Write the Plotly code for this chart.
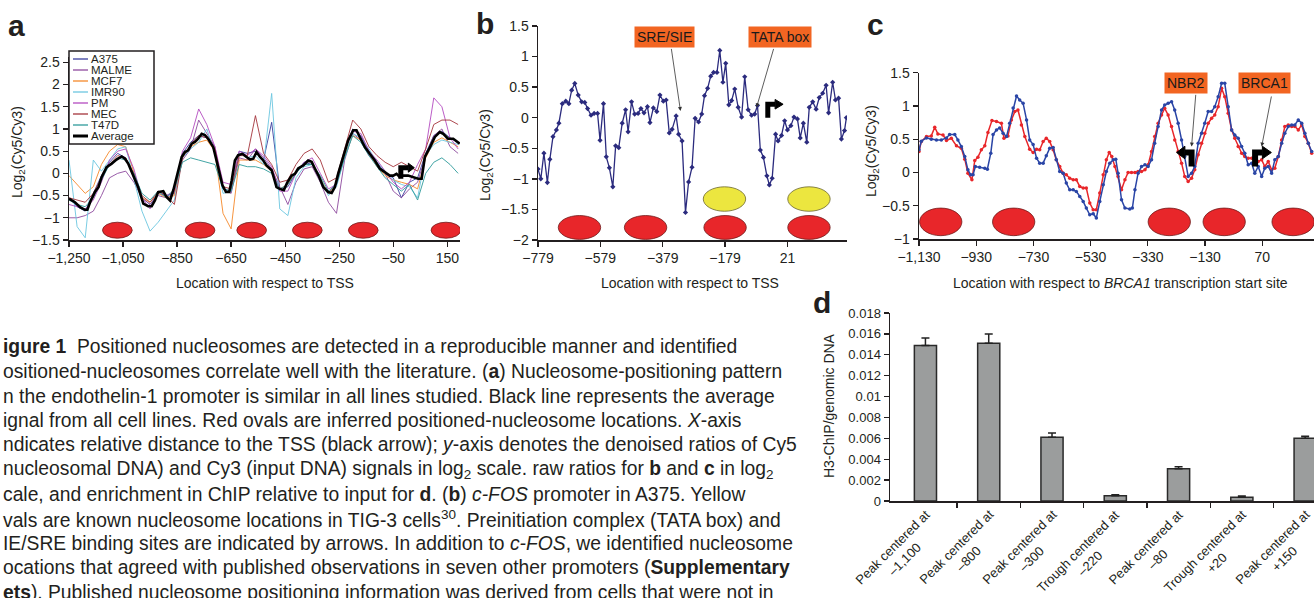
import plotly.graph_objects as go

W, H = 1314, 598
FONT = "Liberation Sans, Arial, Helvetica, sans-serif"
TXT = "#231f20"

# ---------------- panel a : endothelin-1 promoter, 7 cell lines ----------------
a_x = [-1250, -1220, -1190, -1160, -1130, -1100, -1070,
       -1040, -1010, -980, -950, -920, -890, -860,
       -830, -800, -770, -740, -710, -680, -650,
       -620, -590, -560, -530, -500, -470, -440,
       -410, -380, -350, -320, -290, -260, -230,
       -200, -170, -140, -110, -80, -50, -20,
       10, 40, 70, 100, 130, 160, 190]
a_A375 = [-0.55, -0.75, -0.85, -0.45, -0.05, 0.25, 0.45,
          0.35, -0.05, -0.55, -0.70, -0.45, -0.50, -0.45,
          0.45, 0.70, 0.85, 0.80, 0.50, -0.35, -0.40,
          0.50, 0.45, 0.50, 0.30, 1.15, -0.35, -0.30,
          0.00, 0.25, 0.20, -0.15, -0.45, -0.20, 0.50,
          1.00, 0.85, 0.50, 0.25, 0.00, -0.10, -0.55,
          -0.20, -0.10, 0.45, 0.85, 0.95, 0.80, 0.70]
a_MALME = [-1.00, -1.00, -0.95, -0.85, -0.50, -0.10, 0.00,
           0.05, -0.20, -0.55, -0.70, -0.50, -0.55, -0.45,
           0.30, 0.55, 1.20, 0.90, 0.60, -0.35, -0.45,
           0.35, 0.30, 0.55, 0.35, 0.10, -0.30, -0.70,
           -0.20, 0.10, 0.15, -0.20, -0.65, -0.90, 0.30,
           0.90, 0.75, 0.40, 0.20, 0.00, -0.40, -0.55,
           -0.35, -0.20, 0.40, 0.85, 1.00, 0.60, 0.45]
a_MCF7 = [-0.05, -0.25, -0.45, -0.30, 0.20, 0.50, 0.65,
          0.60, 0.00, -0.55, -0.65, -0.45, -0.55, -0.50,
          0.35, 0.60, 0.70, 0.75, 0.50, -0.90, -1.25,
          0.30, 0.30, 0.30, 0.20, 0.05, -0.35, -0.25,
          0.05, 0.20, 0.20, -0.10, -0.45, -0.25, 0.40,
          0.85, 0.75, 0.45, 0.15, -0.05, -0.15, -0.20,
          -0.25, -0.35, 0.35, 0.70, 0.80, 0.70, 0.60]
a_IMR90 = [0.30, -1.20, -1.45, 0.30, 0.05, 0.30, 0.55,
           0.60, -0.10, -0.85, -1.30, -1.10, -0.85, -0.60,
           0.35, 0.55, 0.70, 1.00, 0.45, -0.45, -0.40,
           0.45, 0.35, 0.40, 0.20, 1.80, -0.80, -0.95,
           -0.10, 0.15, 0.20, -0.10, -0.50, -0.30, 0.35,
           0.90, 0.80, 0.55, 0.25, 0.05, -0.15, -0.25,
           -0.30, -0.55, 0.40, 0.65, 0.75, 0.70, 0.65]
a_PM = [-0.70, -0.75, -0.80, -0.60, -0.20, 0.30, 0.50,
        0.55, 0.10, -0.55, -0.80, -0.40, -0.50, -0.40,
        0.50, 0.80, 1.45, 1.10, 0.60, -0.20, -0.25,
        0.50, 0.40, 0.55, 0.40, 0.15, -0.40, -0.40,
        0.00, 0.25, 0.35, 0.00, -0.35, -0.25, 0.50,
        0.95, 0.90, 0.50, 0.30, 0.05, -0.20, -0.35,
        -0.20, 0.20, 0.55, 1.70, 1.50, 0.80, 0.55]
a_MEC = [-0.55, -0.60, -0.65, -0.45, -0.10, 0.20, 0.40,
         0.35, 0.00, -0.50, -0.65, -0.40, -0.50, -0.70,
         0.35, 0.65, 0.85, 0.80, 0.55, -0.30, -0.35,
         0.40, 0.40, 1.30, 0.45, 0.20, -0.20, -0.15,
         0.20, 0.45, 0.55, 0.30, -0.20, -0.10, 0.55,
         1.20, 1.00, 0.60, 0.40, 0.25, 0.15, 0.25,
         0.15, 0.05, 0.55, 1.10, 1.20, 1.20, 1.10]
a_T47D = [-0.60, -0.70, -0.75, -0.55, -0.15, 0.20, 0.35,
          0.30, 0.00, -0.45, -0.60, -0.40, -0.55, -0.35,
          0.25, 0.35, 0.30, 0.25, 0.20, -0.35, -0.40,
          0.20, 0.15, 0.15, 0.10, 0.00, -0.35, -0.25,
          0.00, 0.20, 0.20, -0.05, -0.40, -0.25, 0.35,
          0.85, 0.70, 0.40, 0.15, -0.10, -0.25, -0.40,
          -0.25, -0.60, 0.00, 0.25, 0.35, 0.20, 0.00]
a_avg_x = [-1250, -1240, -1228, -1209, -1191, -1182, -1172, -1154, -1141, -1129,
           -1111, -1092, -1074, -1055, -1043, -1031, -1012, -994, -975, -957,
           -944, -932, -920, -901, -889, -876, -864, -846, -833, -821,
           -809, -796, -784, -772, -759, -747, -735, -716, -698, -682,
           -669, -657, -648, -636, -624, -608, -593, -580, -568, -556,
           -543, -531, -519, -500, -482, -470, -455, -442, -426, -414,
           -402, -383, -365, -352, -340, -324, -309, -291, -278, -266,
           -254, -235, -217, -198, -186, -174, -155, -137, -118, -100,
           -81, -63, -50, -38, -26, -14, 5, 24, 42, 55,
           67, 86, 104, 122, 135, 153, 172, 196]
a_avg_y = [-0.57, -0.61, -0.65, -0.76, -0.82, -0.82, -0.65, -0.42, -0.31, -0.08,
           0.14, 0.22, 0.31, 0.38, 0.33, 0.22, -0.05, -0.31, -0.68, -0.74,
           -0.74, -0.61, -0.42, -0.40, -0.53, -0.61, -0.38, 0.07, 0.37, 0.48,
           0.52, 0.67, 0.71, 0.78, 0.89, 0.86, 0.78, 0.59, 0.14, -0.27,
           -0.42, -0.42, -0.16, 0.29, 0.41, 0.44, 0.37, 0.31, 0.33, 0.48,
           0.37, 0.29, 0.18, 0.07, -0.31, -0.35, -0.38, -0.20, -0.05, -0.01,
           0.11, 0.18, 0.29, 0.26, 0.11, -0.08, -0.31, -0.42, -0.44, -0.31,
           -0.01, 0.37, 0.74, 0.97, 0.97, 0.82, 0.59, 0.44, 0.29, 0.11,
           0.03, -0.05, -0.05, -0.01, -0.08, -0.05, -0.05, -0.08, -0.12, -0.12,
           0.37, 0.59, 0.82, 0.93, 0.89, 0.78, 0.78, 0.67]
a_names = ["A375", "MALME", "MCF7", "IMR90", "PM", "MEC", "T47D", "Average"]
a_series = [a_A375, a_MALME, a_MCF7, a_IMR90, a_PM, a_MEC, a_T47D]
a_colors = ["#3a3f9e", "#8e4a9e", "#f5882a", "#6cc6e0", "#b44bc0", "#a4343c", "#2f9b9b", "#000000"]
a_nuc = [-1071, -765, -574, -368, -161, 145]
a_ticks = [-1250, -1050, -850, -650, -450, -250, -50, 150]

# ---------------- panel b : c-FOS promoter ----------------
b_x = [-779, -770, -760, -749, -741, -731, -720, -712, -701, -690,
       -680, -671, -661, -650, -639, -629, -620, -609, -599, -588,
       -580, -569, -560, -550, -539, -530, -520, -509, -498, -490,
       -479, -469, -458, -449, -439, -428, -420, -409, -398, -388,
       -377, -368, -358, -349, -336, -328, -317, -306, -296, -285,
       -275, -264, -254, -245, -235, -225, -216, -205, -196, -186,
       -177, -167, -158, -148, -137, -126, -116, -105, -94, -84,
       -75, -66, -56, -45, -37, -28, -17, -9, 2, 12,
       21, 32, 42, 53, 62, 72, 83, 91, 102, 113,
       123, 134, 145, 153, 166, 175, 185, 194, 204, 210]
b_y = [-0.84, -1.0, -0.58, -1.06, -0.68, -0.31, -0.20, -0.09, 0.23, 0.27,
       0.23, 0.45, 0.56, 0.37, 0.26, 0.25, 0.15, 0.04, 0.07, 0.07,
       -0.37, 0.23, -0.64, -0.82, -1.13, -0.46, -0.49, -0.09, 0.13, -0.23,
       0.26, 0.06, 0.07, 0.15, 0.08, 0.18, -0.08, 0.16, 0.10, 0.37,
       0.27, 0.29, -0.25, -0.19, 0.03, -0.27, -0.38, -1.55, -1.05, -0.81,
       -0.01, -0.07, 0.06, 0.36, 0.48, 0.68, 0.74, 0.74, 1.1, 0.58,
       0.89, 0.21, 0.28, 0.47, 0.17, 0.01, 0.67, 0.13, 0.04, 0.06,
       0.20, -0.53, -0.65, -0.95, -1.10, -0.99, -0.27, -0.38, -0.29, -0.05,
       -0.20, -0.13, 0.01, -0.02, -0.33, -0.09, -0.40, 0.17, 0.26, 0.14,
       0.33, 0.40, 0.53, 0.08, 0.58, 0.29, 0.32, -0.35, -0.21, 0.0]
b_red_nuc = [-646, -434, -179, 90]
b_yellow_nuc = [-181, 90]
b_ticks = [-779, -579, -379, -179, 21]

# ---------------- panel c : BRCA1 / NBR2 promoter ----------------
c_blue_x = [-1130, -1122, -1104, -1087, -1069, -1052, -1034, -1023, -1005, -994,
            -982, -970, -959, -949, -941, -933, -918, -900, -891, -879,
            -871, -859, -848, -836, -824, -813, -801, -789, -778, -766,
            -754, -743, -731, -719, -708, -696, -685, -673, -661, -650,
            -638, -626, -615, -603, -591, -580, -568, -556, -545, -533,
            -521, -510, -498, -486, -475, -463, -451, -442, -434, -422,
            -410, -393, -384, -375, -364, -352, -340, -329, -317, -306,
            -294, -282, -271, -259, -247, -236, -224, -212, -201, -189,
            -177, -166, -154, -142, -131, -119, -107, -96, -84, -72,
            -61, -49, -37, -26, -14, -2, 9, 21, 33, 44,
            56, 68, 79, 91, 103, 114, 126, 138, 149, 161,
            173, 184, 196, 208, 219, 231, 243]
c_blue_y = [0.34, 0.47, 0.52, 0.50, 0.49, 0.49, 0.52, 0.57, 0.57, 0.49,
            0.39, 0.24, 0.04, -0.035, -0.035, 0.09, 0.08, 0.065, 0.05, 0.29,
            0.57, 0.64, 0.67, 0.59, 0.54, 0.74, 0.97, 1.15, 1.09, 1.04,
            0.79, 0.49, 0.42, 0.215, 0.14, 0.14, 0.25, 0.365, 0.375, 0.19,
            0.015, -0.01, -0.16, -0.26, -0.26, -0.285, -0.36, -0.435, -0.535, -0.635,
            -0.62, -0.685, -0.435, -0.185, 0.015, 0.14, 0.19, 0.2, -0.01, -0.41,
            -0.535, -0.55, -0.535, -0.26, -0.01, 0.09, 0.115, 0.09, 0.19, 0.44,
            0.69, 0.94, 1.015, 1.04, 1.065, 0.94, 0.74, 0.49, 0.24, -0.06,
            -0.01, 0.09, 0.44, 0.59, 0.74, 0.915, 0.915, 0.99, 1.14, 1.34,
            1.34, 0.99, 0.64, 0.565, 0.515, 0.39, 0.29, 0.115, 0.14, -0.01,
            0.09, -0.06, 0.065, 0.09, -0.01, 0.19, 0.24, 0.44, 0.59, 0.69,
            0.715, 0.715, 0.79, 0.74, 0.59, 0.44, 0.315]
c_red_x = [-1130, -1122, -1104, -1087, -1075, -1064, -1046, -1034, -1017, -999,
           -982, -970, -959, -945, -935, -924, -912, -900, -889, -875,
           -859, -842, -833, -819, -807, -795, -784, -772, -760, -743,
           -731, -719, -708, -696, -685, -673, -661, -650, -638, -626,
           -615, -603, -591, -580, -568, -556, -545, -533, -521, -510,
           -498, -486, -475, -465, -456, -445, -434, -422, -410, -399,
           -387, -375, -364, -352, -340, -329, -317, -306, -294, -282,
           -271, -259, -247, -236, -224, -212, -201, -189, -177, -166,
           -154, -142, -131, -119, -107, -96, -84, -72, -61, -49,
           -37, -26, -14, -2, 9, 21, 33, 44, 56, 68,
           79, 91, 103, 114, 126, 138, 149, 161, 173, 184,
           196, 208, 219, 231, 243]
c_red_y = [0.315, 0.465, 0.54, 0.55, 0.68, 0.58, 0.565, 0.48, 0.515, 0.40,
           0.365, 0.20, -0.01, -0.11, 0.18, 0.23, 0.34, 0.40, 0.60, 0.78,
           0.765, 0.74, 0.515, 0.55, 0.79, 0.915, 0.94, 0.715, 0.54, 0.35,
           0.30, 0.35, 0.34, 0.465, 0.515, 0.465, 0.34, 0.19, 0.09, -0.01,
           -0.035, -0.085, -0.11, -0.11, -0.21, -0.235, -0.235, -0.46, -0.56, -0.56,
           -0.31, -0.035, 0.19, 0.30, 0.24, 0.09, -0.06, -0.26, -0.11, 0.0,
           0.0, 0.0, 0.015, 0.015, 0.04, 0.115, 0.315, 0.54, 0.74, 0.865,
           0.965, 0.865, 0.69, 0.49, 0.315, 0.14, -0.06, -0.135, -0.085, 0.04,
           0.265, 0.44, 0.59, 0.74, 0.815, 0.865, 0.99, 1.265, 1.14, 0.89,
           0.64, 0.515, 0.39, 0.29, 0.24, 0.215, 0.215, 0.24, 0.165, 0.19,
           0.09, 0.165, 0.04, 0.065, 0.24, 0.49, 0.69, 0.715, 0.69, 0.69,
           0.64, 0.715, 0.54, 0.44, 0.29]
c_nuc = [-1054, -799, -255, -63, 178]
c_ticks = [-1130, -930, -730, -530, -330, -130, 70]

# ---------------- panel d : H3 ChIP ----------------
d_labels = ["Peak centered at<br>–1,100", "Peak centered at<br>–800", "Peak centered at<br>–300",
            "Trough centered at<br>–220", "Peak centered at<br>–80", "Trough centered at<br>+20",
            "Peak centered at<br>+150"]
d_vals = [0.0149, 0.0151, 0.0061, 0.00051, 0.00308, 0.00035, 0.0060]
d_err = [0.0007, 0.0009, 0.0004, 0.0001, 0.0002, 0.00013, 0.0002]
d_yticks = [0, 0.002, 0.004, 0.006, 0.008, 0.01, 0.012, 0.014, 0.016, 0.018]
d_yticktext = ["0", "0.002", "0.004", "0.006", "0.008", "0.01", "0.012", "0.014", "0.016", "0.018"]

caption = [
    "<b>igure 1</b>  Positioned nucleosomes are detected in a reproducible manner and identified",
    "ositioned-nucleosomes correlate well with the literature. (<b>a</b>) Nucleosome-positioning pattern",
    "n the endothelin-1 promoter is similar in all lines studied. Black line represents the average",
    "ignal from all cell lines. Red ovals are inferred positioned-nucleosome locations. <i>X</i>-axis",
    "ndicates relative distance to the TSS (black arrow); <i>y</i>-axis denotes the denoised ratios of Cy5",
    "nucleosomal DNA) and Cy3 (input DNA) signals in log<sub>2</sub> scale. raw ratios for <b>b</b> and <b>c</b> in log<sub>2</sub>",
    "cale, and enrichment in ChIP relative to input for <b>d</b>. (<b>b</b>) <i>c-FOS</i> promoter in A375. Yellow",
    "vals are known nucleosome locations in TIG-3 cells<sup>30</sup>. Preinitiation complex (TATA box) and",
    "IE/SRE binding sites are indicated by arrows. In addition to <i>c-FOS</i>, we identified nucleosome",
    "ocations that agreed with published observations in seven other promoters (<b>Supplementary</b>",
    "<b>ets</b>). Published nucleosome positioning information was derived from cells that were not in",
]

# ---------------- geometry (pixels) ----------------
GEOM = {
    "a": dict(xpx=(69, 460), ypx=(57, 240), xr=[-1250, 197], yr=[-1.5, 2.62]),
    "b": dict(xpx=(538, 847), ypx=(26, 240), xr=[-779, 212], yr=[-2, 1.5]),
    "c": dict(xpx=(919, 1314), ypx=(72.7, 239), xr=[-1130, 251], yr=[-1, 1.5]),
    "d": dict(xpx=(890, 1314), ypx=(313, 501), xr=[-0.56, 6.14], yr=[0, 0.018]),
}


def xd(p):
    return [p[0] / W, p[1] / W]


def yd(p):
    return [1 - p[1] / H, 1 - p[0] / H]


def units(k):
    g = GEOM[k]
    ux = (g["xr"][1] - g["xr"][0]) / (g["xpx"][1] - g["xpx"][0])
    uy = (g["yr"][1] - g["yr"][0]) / (g["ypx"][1] - g["ypx"][0])
    return ux, uy


fig = go.Figure()

# panel a traces
for name, ys, col in zip(a_names[:-1], a_series, a_colors[:-1]):
    fig.add_trace(go.Scatter(x=a_x, y=ys, mode="lines", name=name,
                             line=dict(color=col, width=1), xaxis="x", yaxis="y",
                             showlegend=False, opacity=0.9))
fig.add_trace(go.Scatter(x=a_avg_x, y=a_avg_y, mode="lines", name="Average",
                         line=dict(color="black", width=2.6), xaxis="x", yaxis="y",
                         showlegend=False))

# panel b
fig.add_trace(go.Scatter(x=b_x, y=b_y, mode="lines+markers",
                         line=dict(color="#2b2b7e", width=1.3),
                         marker=dict(size=4, color="#2b2b7e", symbol="diamond"),
                         xaxis="x2", yaxis="y2", showlegend=False))

# panel c
fig.add_trace(go.Scatter(x=c_red_x, y=c_red_y, mode="lines+markers",
                         line=dict(color="#e8262a", width=1.5),
                         marker=dict(size=3.5, color="#e8262a"),
                         xaxis="x3", yaxis="y3", showlegend=False))
fig.add_trace(go.Scatter(x=c_blue_x, y=c_blue_y, mode="lines+markers",
                         line=dict(color="#2a45a6", width=1.5),
                         marker=dict(size=3.5, color="#2a45a6"),
                         xaxis="x3", yaxis="y3", showlegend=False))

# panel d
fig.add_trace(go.Bar(x=list(range(len(d_vals))), y=d_vals, width=0.35,
                     marker=dict(color="#9b9d9d", line=dict(color="#2a2a2a", width=1.5)),
                     error_y=dict(type="data", array=d_err, arrayminus=[0] * len(d_err),
                                  symmetric=False, color="#222", thickness=1.5, width=4),
                     xaxis="x4", yaxis="y4", showlegend=False))

shapes = []
annotations = []


def oval(xref, yref, cx, hw, y0, y1, fill, edge):
    shapes.append(dict(type="circle", xref=xref, yref=yref, x0=cx - hw, x1=cx + hw,
                       y0=y0, y1=y1, fillcolor=fill, line=dict(color=edge, width=0.8),
                       layer="below"))


RED, REDE = "#e8262a", "#6e1a1a"
YEL, YELE = "#ece63f", "#6b6630"
for c in a_nuc:
    oval("x", "y", c, 55, -1.46, -1.10, RED, REDE)
for c in b_red_nuc:
    oval("x2", "y2", c, 68, -1.99, -1.60, RED, REDE)
for c in b_yellow_nuc:
    oval("x2", "y2", c, 68, -1.53, -1.13, YEL, YELE)
for c in c_nuc:
    oval("x3", "y3", c, 74, -0.95, -0.535, RED, REDE)


def bent_arrow(k, xref, yref, xs, yb, ya, d, arm_px, head_px, headh_px, thick):
    ux, uy = units(k)
    xe = xs + d * arm_px * ux
    shapes.append(dict(type="path", xref=xref, yref=yref,
                       path=f"M {xs},{yb} L {xs},{ya} L {xe},{ya}",
                       line=dict(color="black", width=thick), layer="above"))
    tip = xe + d * head_px * ux
    shapes.append(dict(type="path", xref=xref, yref=yref,
                       path=f"M {xe},{ya + headh_px * uy} L {tip},{ya} L {xe},{ya - headh_px * uy} Z",
                       fillcolor="black", line=dict(color="black", width=1), layer="above"))


bent_arrow("a", "x", "y", -22, -0.12, 0.128, 1, 7.5, 6, 4.5, 5)
bent_arrow("b", "x2", "y2", -42, 0.0, 0.22, 1, 7.3, 8, 4.8, 5)
bent_arrow("c", "x3", "y3", -177, 0.09, 0.30, -1, 6.7, 8.3, 6.3, 6)
bent_arrow("c", "x3", "y3", 45, 0.09, 0.30, 1, 7.3, 9, 6.3, 6)


def callout(xref, yref, label, bx, by, tail, tip):
    annotations.append(dict(xref=xref, yref=yref, x=bx, y=by, text=label, showarrow=False,
                            bgcolor="#f26522", borderpad=2,
                            font=dict(family=FONT, size=14, color="#1a1a1a"),
                            xanchor="center", yanchor="middle"))
    annotations.append(dict(xref=xref, yref=yref, x=tip[0], y=tip[1], ax=tail[0], ay=tail[1],
                            axref=xref, ayref=yref, text="", showarrow=True, arrowhead=2,
                            arrowsize=1, arrowwidth=0.8, arrowcolor="#333", standoff=0))


callout("x2", "y2", "SRE/SIE", -373, 1.32, (-352, 1.15), (-322, 0.11))
callout("x2", "y2", "TATA box", -2, 1.32, (-22, 1.15), (-78, 0.17))
callout("x3", "y3", "NBR2", -198, 1.345, (-162, 1.19), (-177, 0.39))
callout("x3", "y3", "BRCA1", 78, 1.345, (103, 1.165), (68, 0.39))

# legend for panel a (drawn manually)
shapes.append(dict(type="rect", xref="paper", yref="paper", x0=69 / W, x1=154 / W,
                   y0=1 - 144 / H, y1=1 - 51 / H, fillcolor="white",
                   line=dict(color="#231f20", width=1.5), layer="above"))
for i, (name, col) in enumerate(zip(a_names, a_colors)):
    yy = 1 - (59 + 11 * i) / H
    shapes.append(dict(type="line", xref="paper", yref="paper", x0=73 / W, x1=88 / W,
                       y0=yy, y1=yy, line=dict(color=col, width=3 if name == "Average" else 1.3),
                       layer="above"))
    annotations.append(dict(xref="paper", yref="paper", x=89 / W, y=yy, text=name,
                            showarrow=False, xanchor="left", yanchor="middle",
                            font=dict(family=FONT, size=11.5, color=TXT)))

# panel letters
for letter, (lx, ly) in zip("abcd", [(16, 26), (485, 24), (875, 25), (822, 302)]):
    annotations.append(dict(xref="paper", yref="paper", x=lx / W, y=1 - ly / H, text=f"<b>{letter}</b>",
                            showarrow=False, xanchor="center", yanchor="middle",
                            font=dict(family=FONT, size=30, color=TXT)))


def title(text, cx, cy, angle=0, size=14):
    annotations.append(dict(xref="paper", yref="paper", x=cx / W, y=1 - cy / H, text=text,
                            showarrow=False, xanchor="center", yanchor="middle", textangle=angle,
                            font=dict(family=FONT, size=size, color=TXT)))


title("Location with respect to TSS", 265, 283)
title("Location with respect to TSS", 690, 283)
title("Location with respect to <i>BRCA1</i> transcription start site", 1120, 283)
title("Log<sub>2</sub>(Cy5/Cy3)", 18, 152, -90)
title("Log<sub>2</sub>(Cy5/Cy3)", 486, 155, -90)
title("Log<sub>2</sub>(Cy5/Cy3)", 872, 151, -90)
title("H3-ChIP/genomic DNA", 829, 406, -90)

# rotated category labels for panel d
gd = GEOM["d"]
ppu = (gd["xpx"][1] - gd["xpx"][0]) / (gd["xr"][1] - gd["xr"][0])
FS_D = 13
for i, lab in enumerate(d_labels):
    first = lab.split("<br>")[0]
    wtxt = 0.47 * FS_D * len(first)
    htxt = 2.6 * FS_D
    cat_px = gd["xpx"][0] + (i - gd["xr"][0]) * ppu
    cx = cat_px - 4 - 0.707 * (wtxt - htxt) / 2
    cy = 506 + 0.707 * (wtxt + htxt) / 2
    annotations.append(dict(xref="paper", yref="paper", x=cx / W, y=1 - cy / H, text=lab,
                            showarrow=False, textangle=-45, align="center",
                            xanchor="center", yanchor="middle",
                            font=dict(family=FONT, size=FS_D, color=TXT)))

# caption
for i, line in enumerate(caption):
    annotations.append(dict(xref="paper", yref="paper", x=0.5 / W, y=1 - (347 + 24.5 * i) / H,
                            text=line, showarrow=False, xanchor="left", yanchor="middle",
                            font=dict(family=FONT, size=19.3, color=TXT)))

ax_style = dict(showline=True, linecolor=TXT, linewidth=1.5, ticks="outside", ticklen=5,
                tickwidth=1.3, tickcolor=TXT, showgrid=False, zeroline=False, automargin=False,
                tickfont=dict(family=FONT, size=14, color=TXT))

fig.update_layout(
    template="none",
    width=W, height=H, margin=dict(l=0, r=0, t=0, b=0, pad=0, autoexpand=False),
    paper_bgcolor="white", plot_bgcolor="white", showlegend=False,
    font=dict(family=FONT, color=TXT),
    xaxis=dict(domain=xd(GEOM["a"]["xpx"]), range=GEOM["a"]["xr"], anchor="y",
               tickvals=a_ticks, separatethousands=True, **ax_style),
    yaxis=dict(domain=yd(GEOM["a"]["ypx"]), range=GEOM["a"]["yr"], anchor="x",
               tick0=0, dtick=0.5, **ax_style),
    xaxis2=dict(domain=xd(GEOM["b"]["xpx"]), range=GEOM["b"]["xr"], anchor="y2",
                tickvals=b_ticks, **ax_style),
    yaxis2=dict(domain=yd(GEOM["b"]["ypx"]), range=GEOM["b"]["yr"], anchor="x2",
                tick0=0, dtick=0.5, **ax_style),
    xaxis3=dict(domain=xd(GEOM["c"]["xpx"]), range=GEOM["c"]["xr"], anchor="y3",
                tickvals=c_ticks, separatethousands=True, **ax_style),
    yaxis3=dict(domain=yd(GEOM["c"]["ypx"]), range=GEOM["c"]["yr"], anchor="x3",
                tick0=0, dtick=0.5, **ax_style),
    xaxis4=dict(domain=xd(GEOM["d"]["xpx"]), range=GEOM["d"]["xr"], anchor="y4",
                tickvals=[k + 0.5 for k in range(len(d_vals) - 1)], showticklabels=False,
                **ax_style),
    yaxis4=dict(domain=yd(GEOM["d"]["ypx"]), range=GEOM["d"]["yr"], anchor="x4",
                tickvals=d_yticks, ticktext=d_yticktext,
                **{**ax_style, "tickfont": dict(family=FONT, size=13, color=TXT)}),
    shapes=shapes, annotations=annotations,
)

fig.write_html("out.html", config={"displayModeBar": False, "staticPlot": True},
               post_script="document.body.style.margin='0';document.body.style.overflow='hidden';")
